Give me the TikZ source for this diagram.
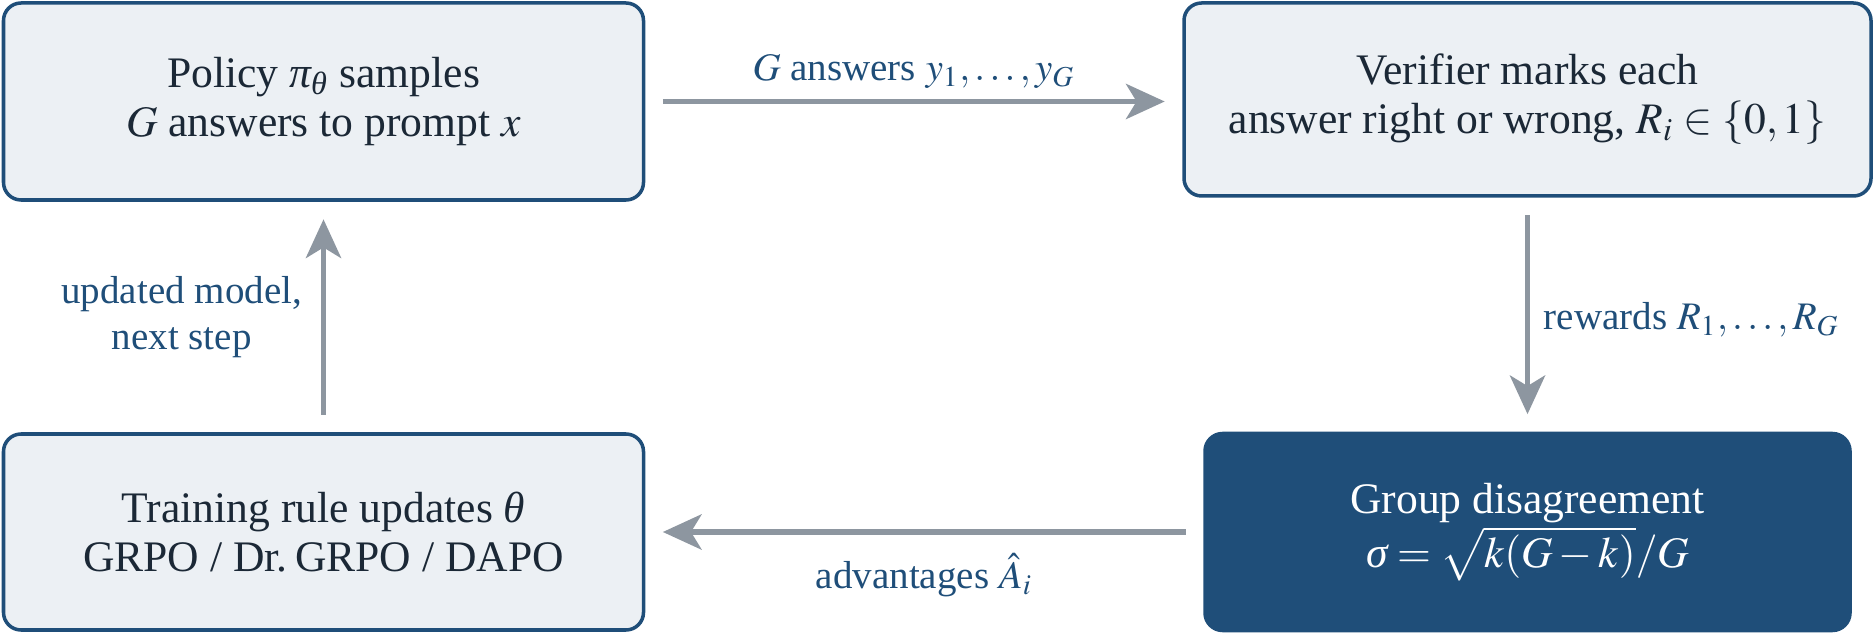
\documentclass[tikz,border=0pt]{standalone}
\usepackage{amsmath}
\usepackage{mathptmx}
\usepackage[no-math]{fontspec}
\setmainfont{Liberation Serif}
\usetikzlibrary{arrows.meta}

\definecolor{boxline}{HTML}{1F4E79}
\definecolor{boxfill}{HTML}{ECF0F4}
\definecolor{boxtext}{HTML}{1B2836}
\definecolor{flowgray}{HTML}{8D96A0}

% italic greek from the text font
\newcommand{\gpi}{\mathord{\text{\itshape π}}}
\newcommand{\gtheta}{\mathord{\text{\itshape θ}}}
\newcommand{\gsigma}{\mathord{\text{\itshape σ}}}

\tikzset{
  box/.style={draw=boxline, line width=1pt, fill=boxfill, rounded corners=5pt,
    align=center, inner sep=0pt, text=boxtext,
    font=\fontsize{12.4}{14}\selectfont},
  darkbox/.style={box, fill=boxline, text=white},
  flow/.style={draw=flowgray, line width=1.6pt, shorten <=5pt, shorten >=5pt,
    -{Stealth[length=11pt,width=10pt,inset=3pt]}},
  lbl/.style={text=boxline, align=center, font=\fontsize{11.1}{13.3}\selectfont}
}

\begin{document}
\begin{tikzpicture}
\useasboundingbox (0,0) rectangle (18.74,-6.33);
% the four stages
\node[box, minimum width=6.40cm, minimum height=1.97cm] (policy) at (3.235,-1.015)
  {Policy $\gpi_{\gtheta}$ samples\\ $G$ answers to prompt $x$};
\node[box, minimum width=6.87cm, minimum height=1.93cm] (verifier) at (15.275,-0.995)
  {Verifier marks each\\ answer right or wrong, $R_i \in \{0,1\}$};
\node[darkbox, minimum width=6.45cm, minimum height=1.97cm] (group) at (15.275,-5.32)
  {Group disagreement\\ $\gsigma = \sqrt{k(G-k)}/G$};
\node[box, minimum width=6.40cm, minimum height=1.96cm] (train) at (3.235,-5.32)
  {Training rule updates $\gtheta$\\ GRPO / Dr.\,GRPO / DAPO};
% the loop
\draw[flow] (policy.east) -- (policy.east -| verifier.west)
  node[lbl, midway, above=-0.5pt] {$G$ answers $y_1,\dots,y_G$};
\draw[flow] (verifier.south) -- (verifier.south |- group.north)
  node[lbl, midway, right=0.5pt, yshift=-0.05cm] {rewards $R_1,\dots,R_G$};
\draw[flow] (group.west) -- (group.west -| train.east)
  node[lbl, midway, below=2pt] {advantages $\hat{A}_i$};
\draw[flow] (train.north) -- (train.north |- policy.south)
  node[lbl, midway, left=2pt] {updated model,\\ next step};
\end{tikzpicture}
\end{document}
